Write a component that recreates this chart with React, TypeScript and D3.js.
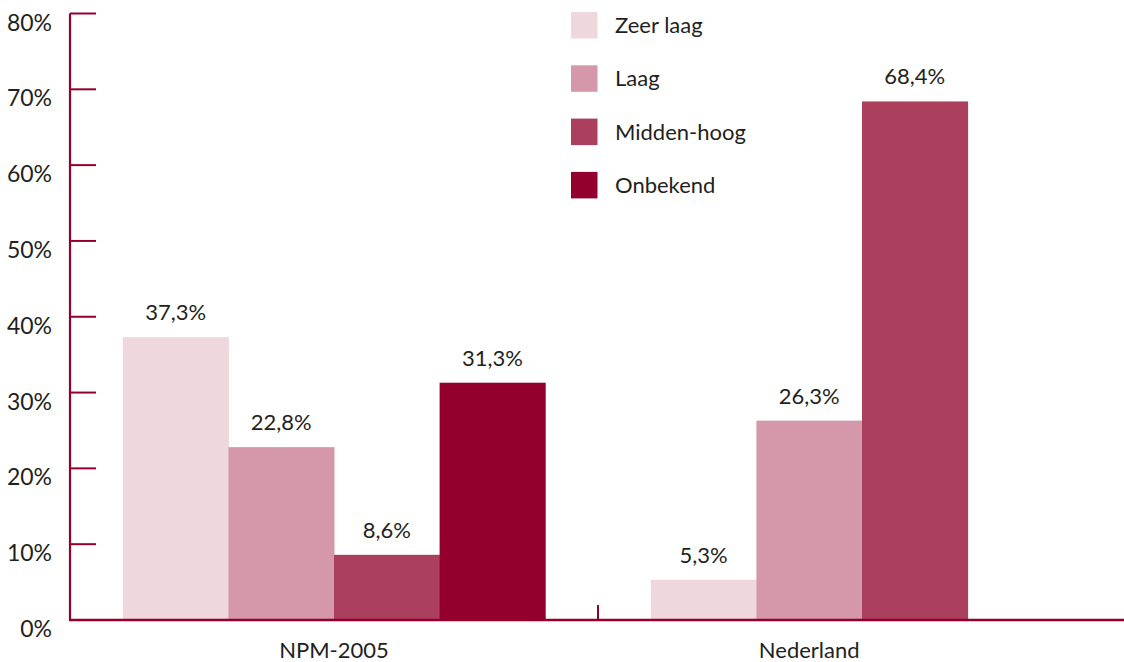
import React from "react";
import * as d3 from "d3";

const categories = ["NPM-2005", "Nederland"];
const seriesNames = ["Zeer laag", "Laag", "Midden-hoog", "Onbekend"];
const seriesColors = ["#efd7de", "#d498aa", "#ab405e", "#93002d"];
const npmValues = [37.3, 22.8, 8.6, 31.3];
const nederlandValues: (number | null)[] = [5.3, 26.3, 68.4, null];
const yTicks = [0, 10, 20, 30, 40, 50, 60, 70, 80];

const W = 1124;
const H = 662;
const AXIS = "#93002d";
const TEXT = "#231f20";
const FONT = "Lato, 'Open Sans', sans-serif";

export default function App() {
  const table = [npmValues, nederlandValues];
  const y = d3.scaleLinear().domain([0, 80]).range([620, 13.5]);
  const x0 = d3.scaleBand<string>().domain(categories).range([70, 1126]).padding(0);
  const x1 = d3
    .scaleBand<string>()
    .domain(seriesNames)
    .range([0, x0.bandwidth()])
    .paddingInner(0)
    .paddingOuter(0.5);
  const bw = x1.bandwidth();
  const fmt = (v: number) => v.toFixed(1).replace(".", ",") + "%";

  return (
    <svg
      width={W}
      height={H}
      style={{ position: "absolute", left: 0, top: 0, background: "#fff" }}
      fontFamily={FONT}
    >
      {/* bars */}
      {categories.map((c, ci) => {
        const vals = table[ci];
        const present = seriesNames.filter((_, si) => vals[si] != null);
        const xs = present.map((s) => (x0(c) as number) + (x1(s) as number));
        const labelX = (d3.min(xs)! + d3.max(xs)! + bw) / 2;
        return (
          <g key={c}>
            {seriesNames.map((s, si) => {
              const v = vals[si];
              if (v == null) return null;
              const bx = (x0(c) as number) + (x1(s) as number);
              return (
                <g key={s}>
                  <rect x={bx} y={y(v)} width={bw + 0.5} height={y(0) - y(v)} fill={seriesColors[si]} />
                  <text
                    x={bx + bw / 2}
                    y={y(v) - 17}
                    textAnchor="middle"
                    fontSize={22}
                    fill={TEXT}
                  >
                    {fmt(v)}
                  </text>
                </g>
              );
            })}
            <text x={labelX} y={658} textAnchor="middle" fontSize={22} fill={TEXT}>
              {c}
            </text>
          </g>
        );
      })}

      {/* y axis */}
      <line x1={70} x2={70} y1={y(80)} y2={y(0)} stroke={AXIS} strokeWidth={2.2} />
      {yTicks.map((t) => (
        <g key={t}>
          <line x1={70} x2={96} y1={y(t)} y2={y(t)} stroke={AXIS} strokeWidth={2} />
          <text x={52} y={y(t) + 17} textAnchor="end" fontSize={23} fill={TEXT}>
            {t}%
          </text>
        </g>
      ))}

      {/* x axis */}
      <line x1={69} x2={W} y1={y(0)} y2={y(0)} stroke={AXIS} strokeWidth={2.5} />
      {categories.slice(1).map((c) => (
        <line key={c} x1={x0(c)} x2={x0(c)} y1={y(0)} y2={y(0) - 15} stroke={AXIS} strokeWidth={2} />
      ))}

      {/* legend */}
      {seriesNames.map((s, si) => (
        <g key={s} transform={`translate(571, ${12 + si * 53.3})`}>
          <rect width={26.5} height={26.5} fill={seriesColors[si]} />
          <text x={44} y={21} fontSize={22} fill={TEXT}>
            {s}
          </text>
        </g>
      ))}
    </svg>
  );
}
